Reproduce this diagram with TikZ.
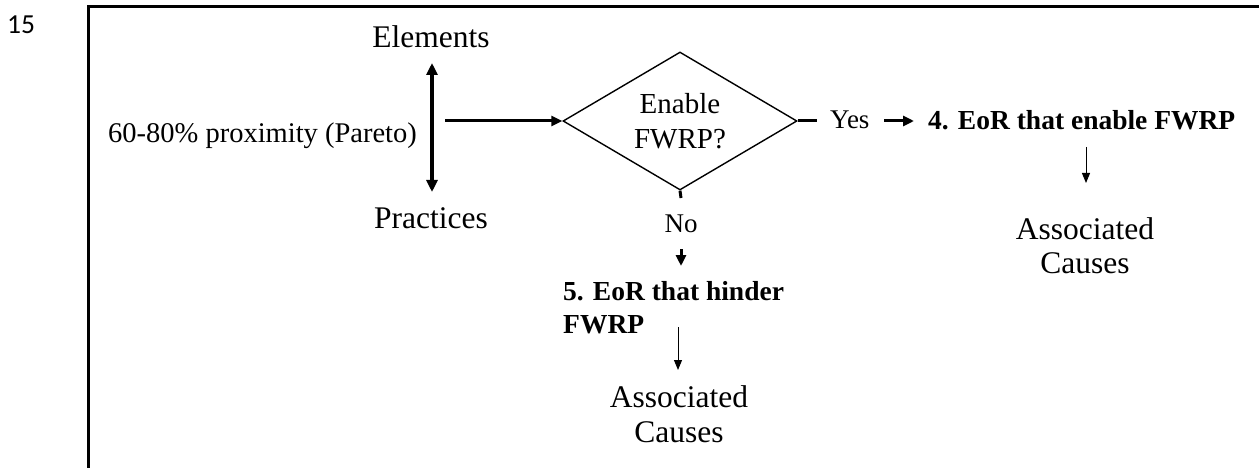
\documentclass[tikz,border=0pt]{standalone}
\usepackage{fontspec}
\setmainfont{Liberation Serif}
\newfontfamily\pagenumfont{Carlito}
\usetikzlibrary{arrows.meta,shapes.geometric}

\tikzset{
  txt/.style={inner sep=0pt, font=\fontsize{28.5}{34}\selectfont},
  bigtxt/.style={inner sep=0pt, font=\fontsize{31.5}{34}\selectfont},
  boldtxt/.style={inner sep=0pt, font=\fontsize{27.5}{33}\selectfont\bfseries},
  thickarrow/.style={line width=3pt, -{Triangle[length=11pt,width=10pt]}},
  dblarrow/.style={line width=3.5pt, {Triangle[length=12pt,width=11pt]}-{Triangle[length=12pt,width=11pt]}},
  thinarrow/.style={line width=1pt, -{Triangle[length=10pt,width=8pt]}},
  tick/.style={line width=3pt},
  decision/.style={draw, line width=1.4pt, shape=diamond, aspect=1.7, inner sep=0pt,
    minimum width=234pt, minimum height=138pt, align=center,
    font=\fontsize{29}{35}\selectfont},
}

\begin{document}
\begin{tikzpicture}[x=1pt, y=-1pt]
\useasboundingbox (0,0) rectangle (1259,468);

% page number and frame
\node[inner sep=0pt, anchor=base west, font=\pagenumfont\fontsize{27.5}{32}\selectfont] (pg) at (7,34) {15};
\draw[line width=3pt] (88.5,468) -- (88.5,7) -- (1259,7);

% left column
\node[bigtxt, anchor=base] (el) at (431,48) {Elements};
\node[bigtxt, anchor=base] (pr) at (431,229) {Practices};
\node[txt, anchor=base west] (prox) at (108,143) {60-80\% proximity (Pareto)};
\coordinate (elEnd) at (432,63);
\coordinate (prEnd) at (432,192);
\draw[dblarrow] (elEnd) -- (prEnd);

% decision
\node[decision] (dec) at (680,121) {Enable\\FWRP?};
\coordinate (proxEnd) at (445,121);
\draw[thickarrow] (proxEnd) -- (dec.west);

% yes branch
\coordinate (yesTick) at (817,121);
\draw[tick] (dec.east) -- (yesTick);
\node[txt, font=\fontsize{27}{32}\selectfont, anchor=base west] (yes) at (830,129) {Yes};
\coordinate (yesA) at (884,121);
\coordinate (yesB) at (914,121);
\draw[thickarrow] (yesA) -- (yesB);
\node[boldtxt, anchor=base west] (en) at (928,130) {4. EoR that enable FWRP};
\node[bigtxt, anchor=base] (ac1a) at (1085,239) {Associated};
\node[bigtxt, anchor=base] (ac1b) at (1085,273) {Causes};
\coordinate (enA) at (1086,147);
\coordinate (enB) at (1086,183);
\draw[thinarrow] (enA) -- (enB);

% no branch
\coordinate (noTick) at (681,198);
\draw[tick] (dec.south) -- (noTick);
\node[txt, font=\fontsize{27}{32}\selectfont, anchor=base] (no) at (681,232) {No};
\coordinate (noA) at (681,249);
\coordinate (noB) at (681,266);
\draw[thickarrow] (noA) -- (noB);
% two-line label: the base anchor sits on the last line
\node[boldtxt, anchor=base west, align=left] (hi) at (563,333) {5. EoR that hinder\\FWRP};
\coordinate (hiA) at (678,327);
\coordinate (hiB) at (678,370);
\draw[thinarrow] (hiA) -- (hiB);
\node[bigtxt, anchor=base] (ac2a) at (679,407) {Associated};
\node[bigtxt, anchor=base] (ac2b) at (679,442) {Causes};
\end{tikzpicture}
\end{document}
